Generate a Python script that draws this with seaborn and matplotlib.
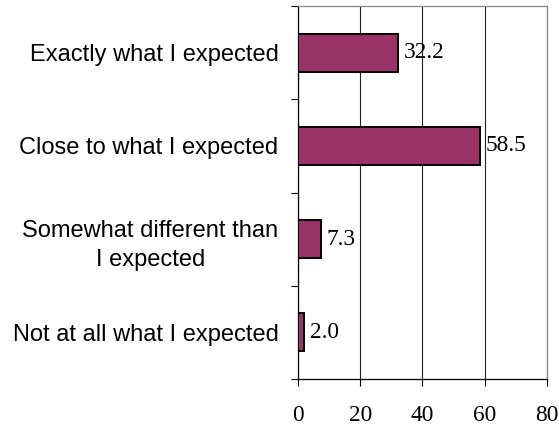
import matplotlib
matplotlib.use("Agg")
import matplotlib.pyplot as plt
import pandas as pd
import seaborn as sns

# Data
categories = ["Exactly what I expected", "Close to what I expected",
              "Somewhat different than\nI expected", "Not at all what I expected"]
values = [32.2, 58.5, 7.3, 2.0]
x_ticks = [0, 20, 40, 60, 80]

df = pd.DataFrame({"category": categories, "value": values})

sns.set_style("white")
plt.rcParams["font.family"] = ["Liberation Sans", "DejaVu Sans"]
plt.rcParams["text.color"] = "black"
plt.rcParams["xtick.color"] = "black"
plt.rcParams["ytick.color"] = "black"

fig = plt.figure(figsize=(5.59, 4.30), dpi=100)
ax = fig.add_axes([0.533, 0.1186, 0.4455, 0.8674])

sns.barplot(data=df, x="value", y="category", orient="h", color="#993366",
            saturation=1, width=0.41, edgecolor="black", linewidth=1.4,
            ax=ax, zorder=3)

ax.set_xlim(0, 80)
ax.set_ylim(3.5, -0.5)
ax.set_xlabel("")
ax.set_ylabel("")

# vertical gridlines
ax.set_xticks(x_ticks)
ax.xaxis.grid(True, color="#222222", linewidth=0.8, zorder=0)
ax.set_axisbelow(True)

# value labels
for i, v in enumerate(values):
    ax.annotate(f"{v:.1f}", xy=(v, i), xytext=(4, 0), textcoords="offset points",
                va="center", ha="left", fontsize=16.8, family="Liberation Serif",
                color="black", zorder=4)

# x ticks
ax.set_xticklabels([str(t) for t in x_ticks], family="Liberation Serif", fontsize=16.8)
ax.tick_params(axis="x", direction="out", length=5, width=0.8, colors="black",
               pad=14, bottom=True)

# y: labels at centres, tick marks at category boundaries
ax.set_yticks(range(len(categories)))
ax.set_yticklabels(categories, fontsize=17)
for lab in ax.get_yticklabels():
    lab.set_multialignment("center")
    lab.set_linespacing(1.45)
    lab.set_color("black")
ax.set_yticks([-0.5, 0.5, 1.5, 2.5, 3.5], minor=True)
ax.tick_params(axis="y", which="major", length=0, pad=14)
ax.tick_params(axis="y", which="minor", direction="out", length=5, width=0.8,
               color="black", left=True)

for side in ["left", "bottom"]:
    ax.spines[side].set_color("black")
    ax.spines[side].set_linewidth(0.9)
for side in ["top", "right"]:
    ax.spines[side].set_color("#888888")
    ax.spines[side].set_linewidth(0.9)

fig.savefig("out.png", dpi=100)
